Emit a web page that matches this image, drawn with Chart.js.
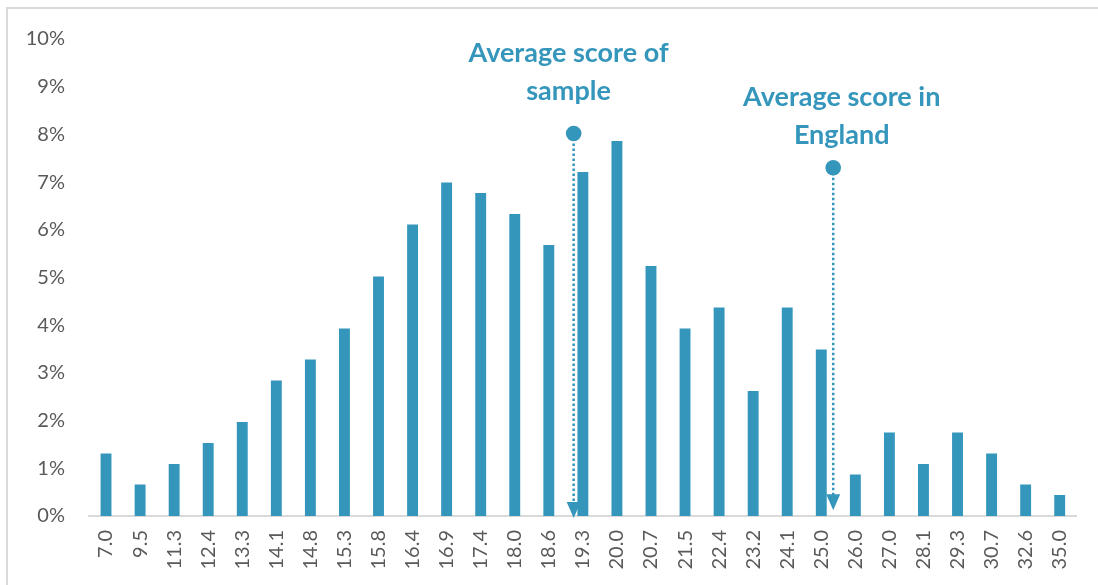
<!DOCTYPE html>
<html>
<head>
<meta charset="utf-8">
<script src="https://cdn.jsdelivr.net/npm/chart.js@4.4.1/dist/chart.umd.min.js"></script>
<style>
  body { margin: 0; background: #fff; }
  #wrap { position: relative; width: 1098px; height: 585px; }
  #frame { position: absolute; left: 6px; top: 7px; right: 0; bottom: 0;
           border-left: 2px solid #d9d9d9; border-top: 2px solid #d9d9d9; }
  canvas { position: absolute; left: 0; top: 0; }
</style>
</head>
<body>
<div id="wrap">
  <div id="frame"></div>
  <canvas id="scoreChart" width="1098" height="585"></canvas>
</div>
<script>
// score bands and share of sample (%)
const scores = ['7.0','9.5','11.3','12.4','13.3','14.1','14.8','15.3','15.8','16.4','16.9','17.4','18.0','18.6','19.3',
                '20.0','20.7','21.5','22.4','23.2','24.1','25.0','26.0','27.0','28.1','29.3','30.7','32.6','35.0'];
const shares = [1.31, 0.66, 1.09, 1.53, 1.97, 2.84, 3.28, 3.93, 5.02, 6.11, 6.99, 6.77, 6.33, 5.68, 7.21,
                7.86, 5.24, 3.93, 4.37, 2.62, 4.37, 3.49, 0.87, 1.75, 1.09, 1.75, 1.31, 0.66, 0.44];
const yTicks = [0, 1, 2, 3, 4, 5, 6, 7, 8, 9, 10];

// average markers: position on the category axis, top (circle) and bottom (arrow) in %
const markerTitles = [['Average score of', 'sample'], ['Average score in', 'England']];
const markerPos = [13.73, 21.35];
const markerTop = [8.02, 7.3];
const markerBottom = [-0.04, 0.12];
const titlePos = [13.58, 21.6];
const titleLines = [[9.7, 8.9], [8.77, 7.98]];

const blue = '#3596bc';

const markerPlugin = {
  id: 'markers',
  afterDatasetsDraw(chart) {
    const ctx = chart.ctx;
    const xs = chart.scales.x, ys = chart.scales.y;
    ctx.save();
    markerPos.forEach((p, i) => {
      const x = xs.getPixelForValue(p);
      const yTop = ys.getPixelForValue(markerTop[i]);
      const yBot = ys.getPixelForValue(markerBottom[i]);
      // dotted stem
      ctx.strokeStyle = blue;
      ctx.lineWidth = 2.5;
      ctx.setLineDash([2.5, 2.5]);
      ctx.beginPath();
      ctx.moveTo(x, yTop);
      ctx.lineTo(x, yBot - 12);
      ctx.stroke();
      ctx.setLineDash([]);
      // circle
      ctx.fillStyle = blue;
      ctx.beginPath();
      ctx.arc(x, yTop, 7.8, 0, Math.PI * 2);
      ctx.fill();
      // arrow head
      ctx.beginPath();
      ctx.moveTo(x - 7, yBot - 16);
      ctx.lineTo(x + 7, yBot - 16);
      ctx.lineTo(x, yBot);
      ctx.closePath();
      ctx.fill();
      // title
      ctx.font = 'bold 27px Lato';
      ctx.textAlign = 'center';
      ctx.textBaseline = 'middle';
      const tx = xs.getPixelForValue(titlePos[i]);
      markerTitles[i].forEach((t, j) => {
        ctx.fillText(t, tx, ys.getPixelForValue(titleLines[i][j]));
      });
    });
    ctx.restore();
  }
};

new Chart(document.getElementById('scoreChart'), {
  type: 'bar',
  data: {
    labels: scores,
    datasets: [{
      data: shares,
      backgroundColor: blue,
      barPercentage: 0.32,
      categoryPercentage: 1.0
    }]
  },
  options: {
    responsive: false,
    animation: false,
    layout: { padding: { left: 0, right: 17, top: 39, bottom: 0 } },
    plugins: { legend: { display: false }, tooltip: { enabled: false } },
    scales: {
      x: {
        grid: { display: false, drawTicks: false },
        border: { color: '#d9d9d9', width: 2 },
        ticks: { color: '#595959', font: { family: 'Lato', size: 20 }, minRotation: 90, maxRotation: 90, padding: 14, autoSkip: false },
        afterFit(scale) { scale.height = 69; }
      },
      y: {
        min: 0, max: 10,
        afterBuildTicks(scale) { scale.ticks = yTicks.map(v => ({ value: v })); },
        grid: { display: false, drawTicks: false },
        border: { display: false },
        ticks: { color: '#595959', font: { family: 'Lato', size: 20 }, padding: 24, callback: v => v + '%' },
        afterFit(scale) { scale.width = 89; }
      }
    }
  },
  plugins: [markerPlugin]
});
</script>
</body>
</html>
